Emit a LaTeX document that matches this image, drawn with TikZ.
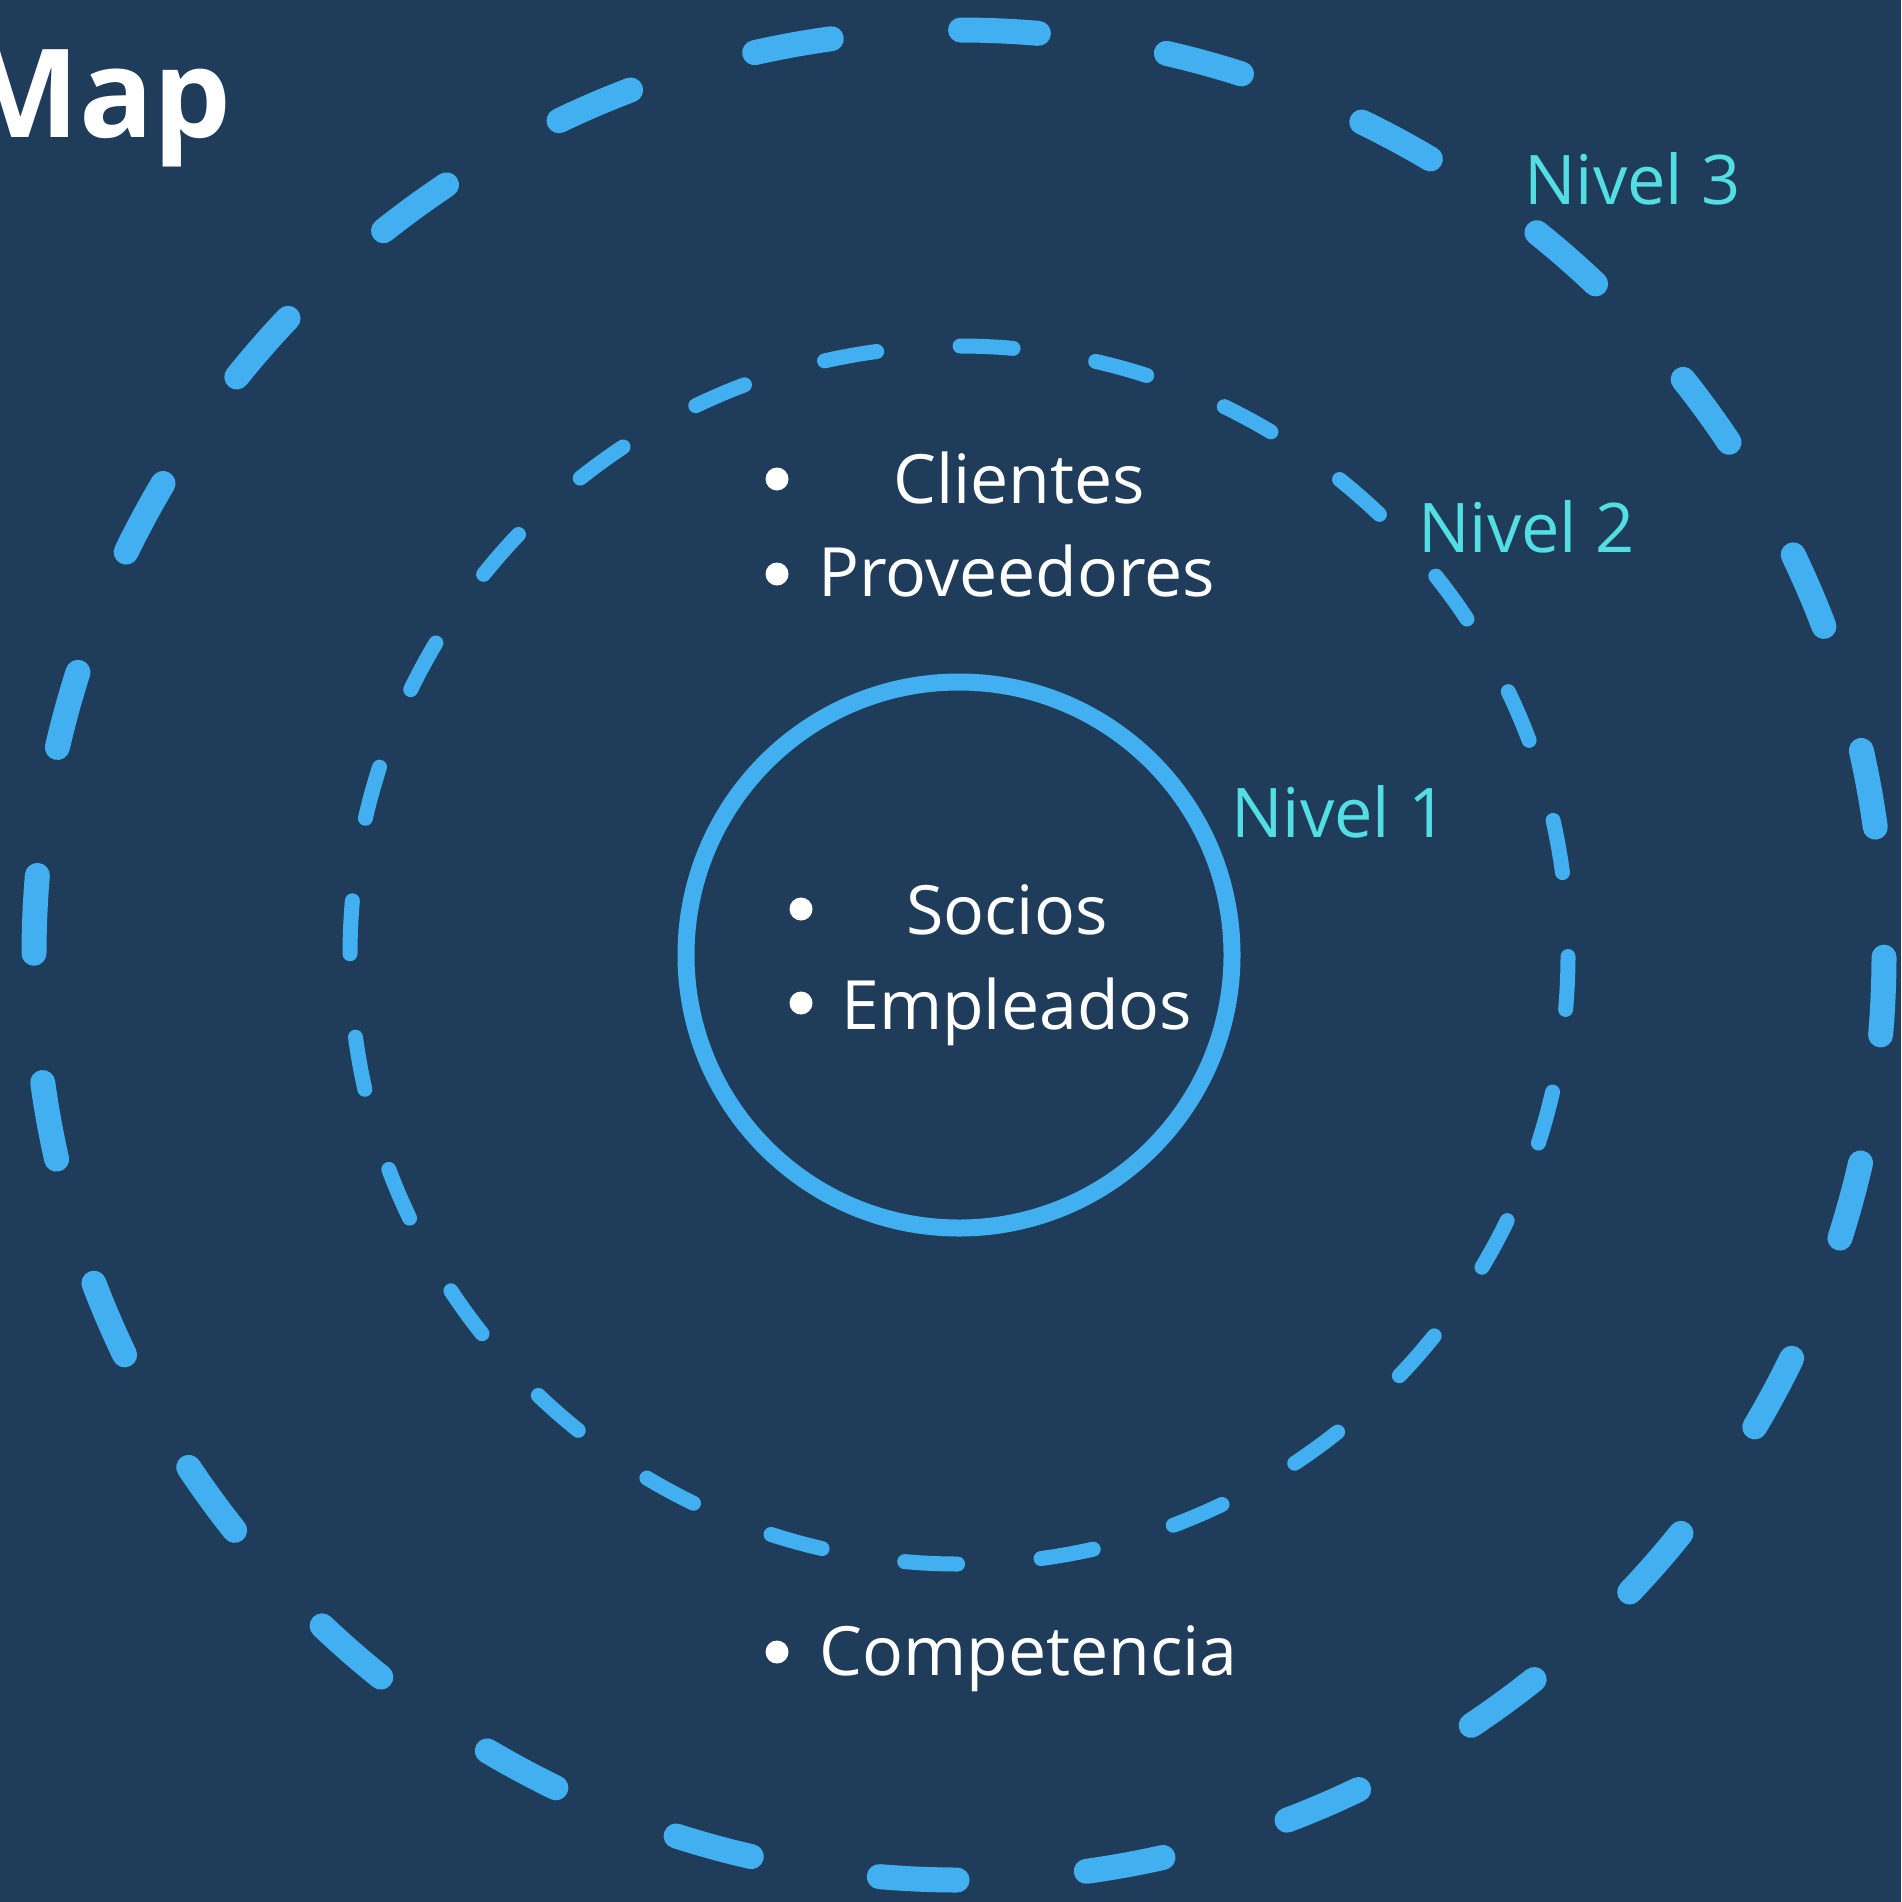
\documentclass[tikz,border=0pt]{standalone}
\usepackage{fontspec}
\setmainfont{Open Sans}
\newfontfamily\titlefont{Open Sans}
\definecolor{bgc}{RGB}{31,61,90}
\definecolor{ringc}{RGB}{66,175,240}
\definecolor{levc}{RGB}{82,222,226}
\begin{document}
\begin{tikzpicture}[x=1pt,y=-1pt,
  ring/.style={draw=ringc,line cap=round},
  outerring/.style={ring,line width=25pt,dash pattern=on 78pt off 129.57pt,dash phase=79.3pt},
  midring/.style={ring,line width=15pt,dash pattern=on 53pt off 83.66pt,dash phase=54pt},
  innerring/.style={ring,line width=17pt},
  level/.style={anchor=base west,inner sep=0pt,text=levc,font=\fontsize{68.5}{80}\selectfont},
  item/.style={anchor=base west,inner sep=0pt,text=white,font=\fontsize{68}{80}\selectfont},
  bul/.style={circle,fill=white,inner sep=0pt,minimum size=23pt},
  title/.style={anchor=base east,inner sep=0pt,text=white,font=\titlefont\bfseries\fontsize{123}{140}\selectfont}]
\fill[bgc] (0,0) rectangle (1901,1902);
\useasboundingbox (0,0) rectangle (1901,1902);
\begin{scope}
\clip (0,0) rectangle (1901,1902);
\node[title] (title) at (232,138) {Map};
\end{scope}
\coordinate (c) at (959,955);
\draw[outerring] (c) circle[radius=925pt];
\draw[midring] (c) circle[radius=609pt];
\draw[innerring] (c) circle[radius=273pt];
\node[level] (n3) at (1524,205) {Nivel 3};
\node[level] (n2) at (1418,552) {Nivel 2};
\node[level] (n1) at (1231,837) {Nivel 1};
\node[bul] (b1) at (777,479) {};
\node[item] (t1) at (893,503) {Clientes};
\node[bul] (b2) at (777,574) {};
\node[item] (t2) at (818,596) {Proveedores};
\node[bul] (b3) at (801,909) {};
\node[item] (t3) at (906,934) {Socios};
\node[bul] (b4) at (801,1003) {};
\node[item] (t4) at (841,1029) {Empleados};
\node[bul] (b5) at (777,1652) {};
\node[item] (t5) at (819,1675) {Competencia};
\end{tikzpicture}
\end{document}
